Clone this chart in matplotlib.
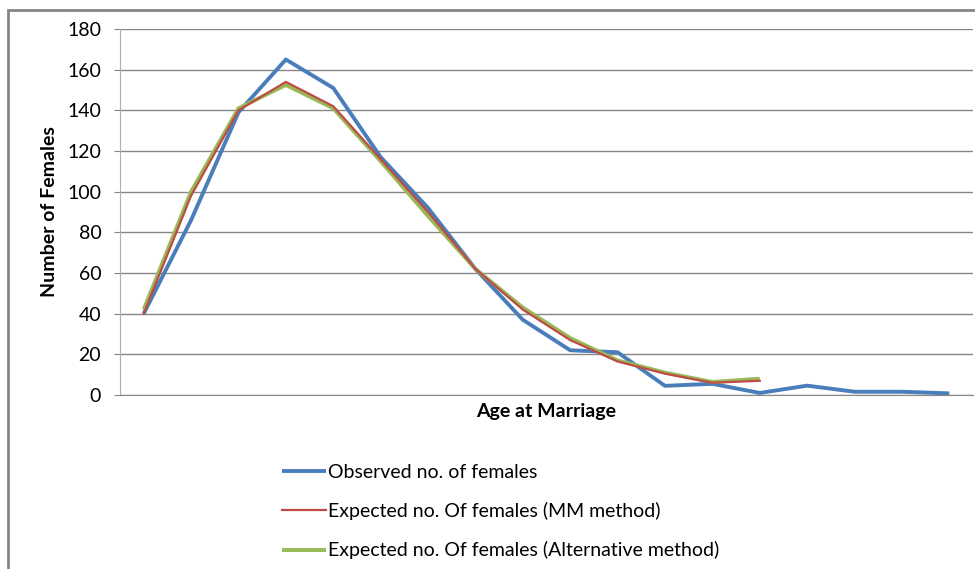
import numpy as np
import matplotlib.pyplot as plt
from matplotlib.patches import Rectangle

plt.rcParams['font.family'] = ['Lato', 'DejaVu Sans']

# values
observed = [40, 86, 139, 165, 151, 117, 92, 62, 37, 22, 21, 4.5, 5.5, 1, 4.6, 1.6, 1.6, 0.8]
expected_mm = [40, 98, 140, 154, 142, 116, 90, 62, 42, 27, 16.5, 10.5, 6, 7]
expected_alt = [42, 100, 141, 152.5, 141, 115, 88, 62, 43, 28, 17, 11, 6.4, 8]

labels = ['Observed no. of females',
          'Expected no. Of females (MM method)',
          'Expected no. Of females (Alternative method)']
colors = ['#4A7EBB', '#BE4B48', '#98B954']

fig = plt.figure(figsize=(9.75, 5.69), dpi=100)
ax = fig.add_axes([120/975, 1 - 395/569, 853/975, 366/569])

ax.plot(range(len(observed)), observed, color=colors[0], lw=2.8,
        label=labels[0], solid_capstyle='butt', zorder=3)
ax.plot(range(len(expected_mm)), expected_mm, color=colors[1], lw=1.6,
        label=labels[1], zorder=4)
ax.plot(range(len(expected_alt)), expected_alt, color=colors[2], lw=2.8,
        label=labels[2], solid_capstyle='butt', zorder=3)

ax.set_xlim(-0.5, len(observed) - 0.5)
ax.set_ylim(0, 180)
ax.set_yticks(np.arange(0, 181, 20))
ax.set_xticks([])
ax.grid(axis='y', color='#868686', lw=1)
ax.set_axisbelow(True)

for s in ['top', 'right']:
    ax.spines[s].set_visible(False)
ax.spines['left'].set_color('#b0b0b0')
ax.spines['bottom'].set_color('#868686')
ax.tick_params(axis='y', length=4.5, color='#868686', labelsize=14, pad=9)

ax.set_ylabel('Number of Females', fontsize=14, fontweight='bold', labelpad=7)
ax.set_xlabel('Age at Marriage', fontsize=14, fontweight='bold', labelpad=6)

leg = fig.legend(loc='upper left', bbox_to_anchor=(264/975, 1 - 446/569),
                 frameon=False, fontsize=14, handlelength=2.3,
                 handletextpad=0.1, labelspacing=1.1)

# outer chart border (cut off at right and bottom in the reference)
fig.patches.append(Rectangle((8/975, -0.1), 1.1, 1 - 10/569 + 0.1,
                             transform=fig.transFigure, fill=False,
                             edgecolor='#868686', lw=2))

fig.savefig('out.png', dpi=100)
